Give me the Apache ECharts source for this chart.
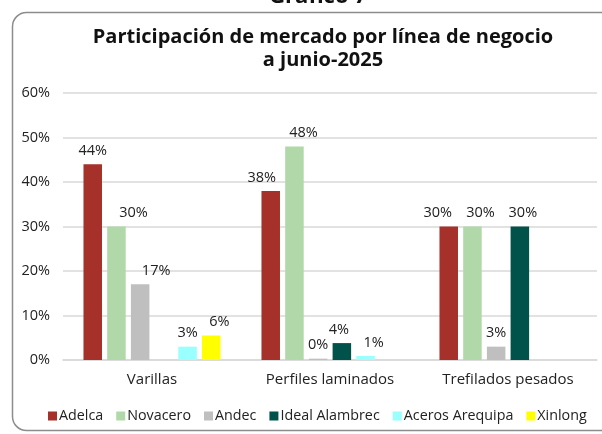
<!DOCTYPE html>
<html><head><meta charset="utf-8">
<script src="https://cdn.jsdelivr.net/npm/echarts@6/dist/echarts.min.js"></script>
<style>html,body{margin:0;padding:0;background:#fff}#c{width:602px;height:434px}</style>
</head><body><div id="c"></div>
<script>
const categories = ['Varillas', 'Perfiles laminados', 'Trefilados pesados'];
const seriesNames = ['Adelca', 'Novacero', 'Andec', 'Ideal Alambrec', 'Aceros Arequipa', 'Xinlong'];
const adelca = [44, 38, 30];
const novacero = [30, 48, 30];
const andec = [17, 0.3, 3];
const idealAlambrec = [null, 3.8, 30];
const acerosArequipa = [3, 0.9, null];
const xinlong = [5.5, null, null];
const yTicks = [0, 10, 20, 30, 40, 50, 60];
const colors = ['#A5312A', '#B0D8A8', '#BFBFBF', '#00524A', '#99FFFF', '#FFFF00'];
const values = [adelca, novacero, andec, idealAlambrec, acerosArequipa, xinlong];
// horizontal nudges of the data labels (styling only), per series per category
const labelNudge = [
  [0, -9, -11],
  [17, 9, 8],
  [16, 0, 0],
  [0, -3, 3],
  [0, 8, 0],
  [8, 0, 0]
];

const font = '"Open Sans", "Noto Sans", sans-serif';
const chart = echarts.init(document.getElementById('c'));
chart.setOption({
  animation: false,
  textStyle: { fontFamily: font },
  graphic: [
    { type: 'rect', shape: { x: 12.5, y: 12.5, width: 640, height: 418, r: 14 },
      style: { fill: 'none', stroke: '#8c8c8c', lineWidth: 1.5 }, z: -1 },
    { type: 'text', x: 318, y: 8, style: { text: 'Gráfico 7', font: 'bold 22px ' + font, fill: '#111', textAlign: 'center', textVerticalAlign: 'bottom' } }
  ],
  title: {
    text: 'Participación de mercado por línea de negocio\na junio-2025',
    left: 318, top: 21, textAlign: 'center',
    textStyle: { fontFamily: font, fontSize: 20, fontWeight: 'bold', color: '#111', lineHeight: 23 }
  },
  legend: {
    data: seriesNames, top: 404, left: 43,
    itemWidth: 9, itemHeight: 9, itemGap: 13, icon: 'rect',
    textStyle: { fontFamily: font, fontSize: 14.3, color: '#222', padding: [0, 0, 0, -3] }
  },
  grid: { left: 63, right: 5, top: 93, bottom: 74, containLabel: false },
  xAxis: {
    type: 'category', data: categories,
    axisLine: { lineStyle: { color: '#d9d9d9', width: 1.5 } },
    axisTick: { show: false },
    axisLabel: { fontSize: 15, color: '#222', margin: 12, fontFamily: font }
  },
  yAxis: {
    type: 'value', min: yTicks[0], max: yTicks[yTicks.length - 1], interval: 10,
    axisLine: { show: false }, axisTick: { show: false },
    axisLabel: { formatter: '{value}%', fontSize: 14.5, color: '#222', margin: 13, fontFamily: font },
    splitLine: { lineStyle: { color: '#d9d9d9', width: 1.5 } }
  },
  series: seriesNames.map((n, i) => ({
    name: n, type: 'bar',
    data: values[i].map((v, j) => ({ value: v, label: { offset: [labelNudge[i][j], 0] } })),
    itemStyle: { color: colors[i] },
    barGap: '28%', barCategoryGap: '23%',
    label: { show: true, position: 'top', distance: 6, fontSize: 14.5, color: '#222', fontFamily: font,
      formatter: p => p.value == null ? '' : Math.round(p.value) + '%' }
  }))
});
</script></body></html>
